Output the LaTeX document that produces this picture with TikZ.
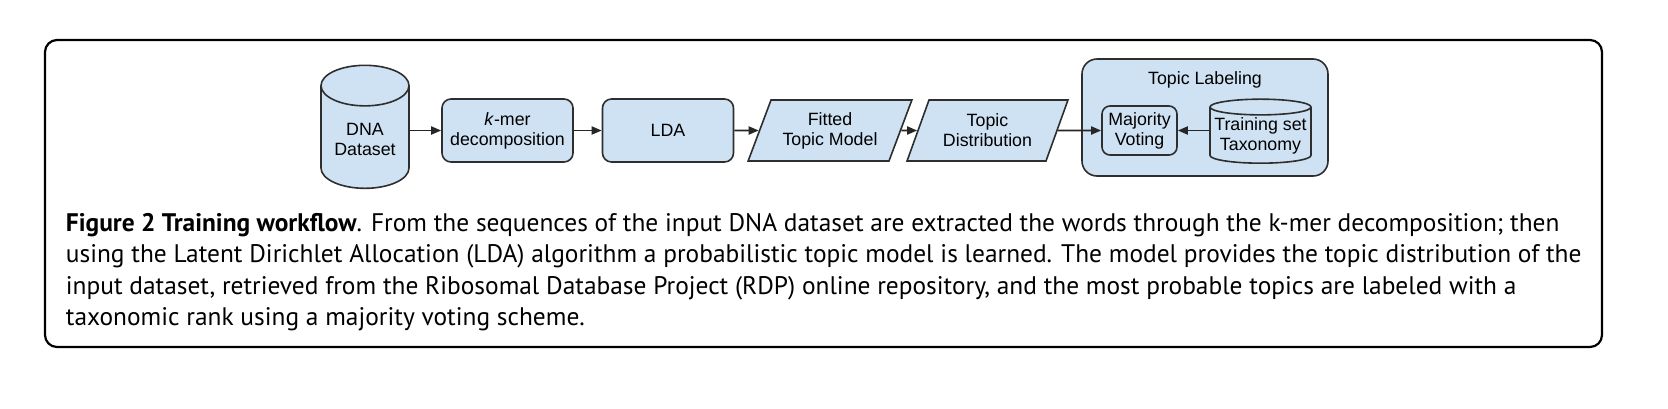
\documentclass[tikz,border=0pt]{standalone}
\usepackage{fontspec}
\newfontfamily\diagfont{Liberation Sans}
\newfontfamily\capfont{PT Sans}
\usetikzlibrary{arrows.meta, shapes.geometric}
\definecolor{boxblue}{HTML}{CFE2F3}
\definecolor{edgegray}{HTML}{2E2E2E}

\begin{document}
\begin{tikzpicture}[
  x=1pt, y=-1pt,
  >={Triangle[length=10pt, width=8pt]}, line width=1.8pt,
  txt/.style={font=\diagfont\fontsize{17.8}{20}\selectfont, align=center, inner sep=1pt},
  box/.style={txt, draw=edgegray, fill=boxblue, line width=1.6pt, rounded corners=9pt, minimum width=131pt, minimum height=63pt},
  store/.style={txt, cylinder, shape border rotate=90, aspect=0.64, draw=edgegray, fill=boxblue, line width=1.6pt},
  slanted/.style={txt, trapezium, trapezium left angle=64, trapezium right angle=116, trapezium stretches=true, draw=edgegray, fill=boxblue, line width=1.6pt, minimum width=164pt, minimum height=61pt},
  group/.style={draw=edgegray, fill=boxblue, line width=1.6pt, rounded corners=15pt, minimum width=246pt, minimum height=117pt},
  flow/.style={->, line width=1.8pt, draw=black!85}
]
  \useasboundingbox (0,0) rectangle (1668,408);
  \draw[line width=2.2pt, rounded corners=12pt] (45,40) rectangle (1602,347);

  % pipeline
  \node[store, minimum width=88pt, minimum height=123pt] (dna) at (365,139.5) {DNA\\Dataset};
  \node[box] (kmer) at (507.5,130.5) {\textit{k}-mer\\decomposition};
  \node[box] (lda) at (668,130.5) {LDA};
  \node[slanted] (fitted) at (830,130.5) {Fitted\\Topic Model};
  \node[slanted, minimum width=161pt] (topicdist) at (987.5,130.5) {Topic\\Distribution};

  \node[group] (labeling) at (1205,117.5) {};
  \node[txt] (labtitle) at (1205,80) {Topic Labeling};
  \node[box, rounded corners=8pt, minimum width=75pt, minimum height=49pt] (voting) at (1139.5,130.5) {Majority\\Voting};
  \node[store, aspect=0.17, inner xsep=0pt, inner ysep=0pt, minimum width=101pt, minimum height=64pt] (taxonomy) at (1260.5,135.5) {Training set\\Taxonomy};

  \draw[flow] (dna.east |- kmer.west) -- (kmer);
  \draw[flow] (kmer) -- (lda);
  \draw[flow] (lda) -- (fitted);
  \draw[flow] (fitted) -- (topicdist);
  \draw[flow] (topicdist) -- (voting);
  \draw[flow] (taxonomy.west |- voting.east) -- (voting);

  \node[anchor=north west, align=left, inner sep=0pt, font=\capfont\fontsize{25.4}{31.5}\selectfont] (caption) at (65,212)
    {\textbf{Figure 2 Training workflow}. From the sequences of the input DNA dataset are extracted the words through the k-mer decomposition; then\\
     using the Latent Dirichlet Allocation (LDA) algorithm a probabilistic topic model is learned. The model provides the topic distribution of the\\
     input dataset, retrieved from the Ribosomal Database Project (RDP) online repository, and the most probable topics are labeled with a\\
     taxonomic rank using a majority voting scheme.};
\end{tikzpicture}
\end{document}
